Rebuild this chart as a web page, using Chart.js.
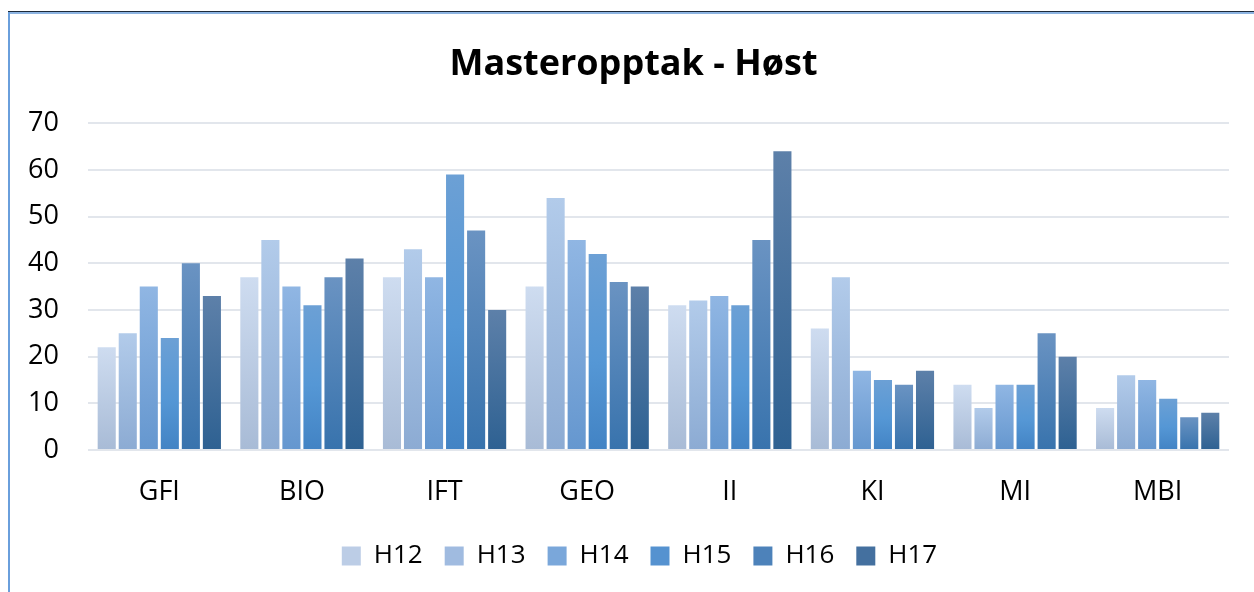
<!DOCTYPE html>
<html>
<head>
<meta charset="utf-8">
<script src="https://cdn.jsdelivr.net/npm/chart.js@4/dist/chart.umd.min.js"></script>
<style>
  body { margin: 0; background: #fff; }
  #wrap { position: relative; width: 1254px; height: 592px; }
  #frame-top { position: absolute; left: 8px; top: 11px; width: 1246px; height: 1px; background: #1c2a3a; }
  #frame-top2 { position: absolute; left: 8px; top: 12px; width: 1246px; height: 2px; background: #8db4e2; }
  #frame-left { position: absolute; left: 8px; top: 12px; width: 2px; height: 580px; background: #6a9fdc; }
</style>
</head>
<body>
<div id="wrap">
  <canvas id="chart" width="1254" height="592"></canvas>
  <div id="frame-top"></div>
  <div id="frame-top2"></div>
  <div id="frame-left"></div>
</div>
<script>
var categories = ['GFI', 'BIO', 'IFT', 'GEO', 'II', 'KI', 'MI', 'MBI'];
var series_names = ['H12', 'H13', 'H14', 'H15', 'H16', 'H17'];
var h12 = [22, 37, 37, 35, 31, 26, 14, 9];
var h13 = [25, 45, 43, 54, 32, 37, 9, 16];
var h14 = [35, 35, 37, 45, 33, 17, 14, 15];
var h15 = [24, 31, 59, 42, 31, 15, 14, 11];
var h16 = [40, 37, 47, 36, 45, 14, 25, 7];
var h17 = [33, 41, 30, 35, 64, 17, 20, 8];
var y_ticks = [0, 10, 20, 30, 40, 50, 60, 70];

// top / bottom colours of each bar's gradient
var grad_colors = [
  ['#cedcf0', '#a8bbd6'],
  ['#b2cbea', '#8cabd3'],
  ['#90b6e3', '#6597cf'],
  ['#6ca0d5', '#4283c4'],
  ['#6a93c2', '#3873ad'],
  ['#5d80a9', '#2e6192']
];
var legend_colors = ['#bccde6', '#a0bbe0', '#7aa7da', '#5592d0', '#4d82ba', '#44709f'];

function bar_fill(i) {
  return function(context) {
    var chart = context.chart;
    var y = chart.scales.y;
    if (context.type !== 'data' || !chart.chartArea || !y) {
      return legend_colors[i];
    }
    var top = y.getPixelForValue(context.raw);
    var bottom = y.getPixelForValue(0);
    if (!isFinite(top) || !isFinite(bottom) || top === bottom) {
      return legend_colors[i];
    }
    var g = chart.ctx.createLinearGradient(0, top, 0, bottom);
    g.addColorStop(0, grad_colors[i][0]);
    if (i === 3) {
      g.addColorStop(0.55, '#5597d5');
    }
    g.addColorStop(1, grad_colors[i][1]);
    return g;
  };
}

var values = [h12, h13, h14, h15, h16, h17];
var datasets = series_names.map(function(name, i) {
  return {
    label: name,
    data: values[i],
    backgroundColor: bar_fill(i),
    borderWidth: 0,
    barPercentage: 0.86,
    categoryPercentage: 0.885
  };
});

// title and legend sit a bit right of the canvas centre, like in excel
var shift_boxes = {
  id: 'shift_boxes',
  afterLayout: function(chart) {
    if (chart.legend) {
      chart.legend.left += 50;
      chart.legend.width = chart.legend.right - chart.legend.left;
    }
    if (chart.titleBlock) {
      chart.titleBlock.left += 38;
      chart.titleBlock.width = chart.titleBlock.right - chart.titleBlock.left;
    }
  }
};

var font_family = "'Open Sans', 'Liberation Sans', sans-serif";

new Chart(document.getElementById('chart'), {
  type: 'bar',
  data: {
    labels: categories,
    datasets: datasets
  },
  plugins: [shift_boxes],
  options: {
    responsive: false,
    animation: false,
    layout: {
      padding: { left: 0, right: 25, top: 0, bottom: 13 }
    },
    scales: {
      x: {
        grid: { display: false, drawTicks: false },
        border: { display: false },
        afterFit: function(scale) {
          scale.height = 71;
        },
        ticks: {
          color: '#000',
          padding: 26,
          font: { family: font_family, size: 27 }
        }
      },
      y: {
        min: 0,
        max: 70,
        afterBuildTicks: function(scale) {
          scale.ticks = y_ticks.map(function(v) { return { value: v }; });
        },
        afterFit: function(scale) {
          scale.width = 88;
        },
        grid: { color: '#e2e6ec', lineWidth: 2, drawTicks: false },
        border: { display: false },
        ticks: {
          color: '#000',
          padding: 29,
          font: { family: font_family, size: 27 }
        }
      }
    },
    plugins: {
      title: {
        display: true,
        text: 'Masteropptak - Høst',
        color: '#000',
        font: { family: font_family, size: 36, weight: 'bold' },
        padding: { top: 43, bottom: 37 }
      },
      legend: {
        position: 'bottom',
        labels: {
          color: '#000',
          boxWidth: 19,
          boxHeight: 19,
          padding: 22,
          font: { family: font_family, size: 26 },
          generateLabels: function(chart) {
            return chart.data.datasets.map(function(ds, i) {
              return {
                text: ds.label,
                fillStyle: legend_colors[i],
                strokeStyle: legend_colors[i],
                lineWidth: 0,
                hidden: false,
                datasetIndex: i
              };
            });
          }
        }
      },
      tooltip: { enabled: false }
    }
  }
});
</script>
</body>
</html>
